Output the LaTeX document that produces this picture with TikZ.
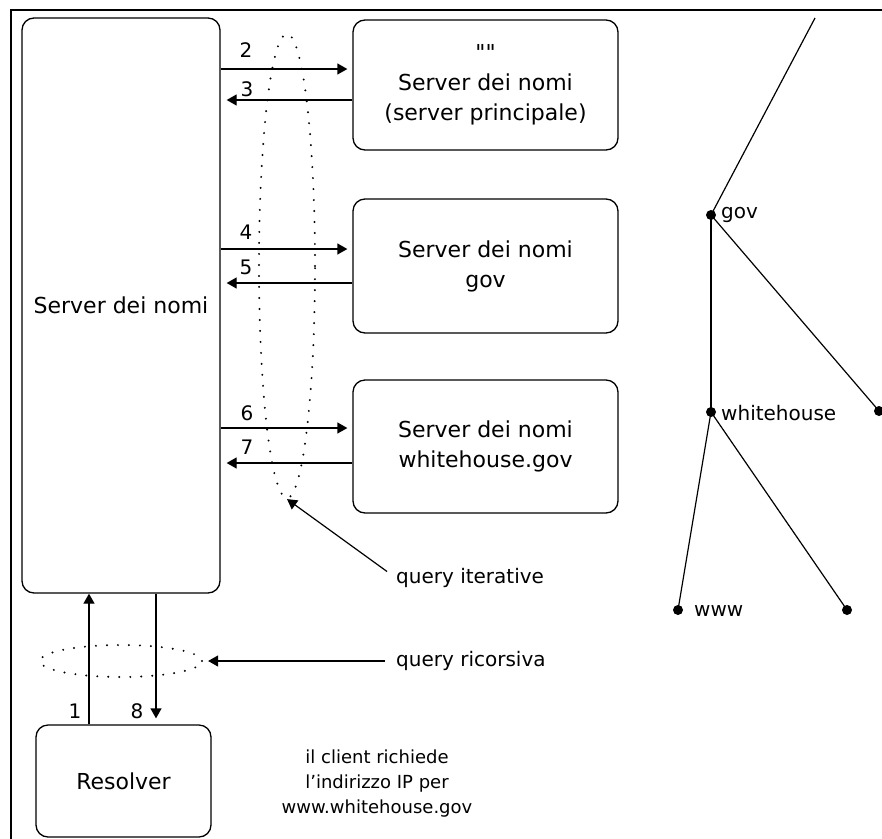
\documentclass[tikz,border=0pt]{standalone}
\usepackage{fontspec}
\setmainfont{DejaVu Sans}
\newfontfamily\rawq{DejaVu Sans}[Ligatures=TeXOff]
\usetikzlibrary{arrows.meta,shapes.geometric}
\begin{document}
\begin{tikzpicture}[x=1pt,y=-1pt,
  box/.style={draw, line width=1.3pt, rounded corners=12pt, align=center, inner sep=0pt},
  arr/.style={line width=1.3pt, -{Triangle[length=10pt,width=11pt]}},
  dots/.style={draw, line width=2.2pt, dash pattern=on 0pt off 11pt, line cap=round, ellipse, inner sep=0pt},
  big/.style={font=\fontsize{22}{30}\selectfont},
  num/.style={font=\fontsize{20}{24}\selectfont, inner sep=0pt},
  lab/.style={font=\fontsize{20}{24}\selectfont, anchor=west, inner sep=0pt},
  small/.style={font=\fontsize{18}{25}\selectfont, align=center, inner sep=0pt},
  tdot/.style={circle, fill, inner sep=0pt, minimum size=10pt},
  tline/.style={line width=1.2pt},
  frame/.style={line width=1.5pt}]

\useasboundingbox (0,0) rectangle (882,838);

% frame
\coordinate (fbl) at (11,845);
\coordinate (ftl) at (11,10);
\coordinate (ftr) at (890,10);
\draw[frame] (fbl) -- (ftl) -- (ftr);

% boxes
\node[box, big, minimum width=198pt, minimum height=575pt] (ns) at (121,305.5) {Server dei nomi};
\node[box, big, minimum width=265pt, minimum height=130pt] (b1) at (485.5,85)
  {{\rawq ""}\\Server dei nomi\\(server principale)};
\node[box, big, minimum width=265pt, minimum height=134pt] (b2) at (485.5,266)
  {Server dei nomi\\gov};
\node[box, big, minimum width=265pt, minimum height=133pt] (b3) at (485.5,446.5)
  {Server dei nomi\\whitehouse.gov};
\node[box, big, minimum width=175pt, minimum height=112pt] (res) at (123.5,781) {Resolver};

% iterative arrows
\draw[arr, shorten >=5pt] (ns.east |- 0,69) -- (b1.west |- 0,69);
\draw[arr, shorten >=6pt] (b1.west |- 0,100) -- (ns.east |- 0,100);
\draw[arr, shorten >=5pt] (ns.east |- 0,249) -- (b2.west |- 0,249);
\draw[arr, shorten >=6pt] (b2.west |- 0,283) -- (ns.east |- 0,283);
\draw[arr, shorten >=5pt] (ns.east |- 0,428) -- (b3.west |- 0,428);
\draw[arr, shorten >=6pt] (b3.west |- 0,463) -- (ns.east |- 0,463);

\node[num] (n2) at (246,50) {2};
\node[num] (n3) at (247,89) {3};
\node[num] (n4) at (246,232) {4};
\node[num] (n5) at (246,267) {5};
\node[num] (n6) at (247,413) {6};
\node[num] (n7) at (247,447) {7};

% recursive arrows
\draw[arr] (res.north -| 89,0) -- (ns.south -| 89,0);
\draw[arr, shorten >=6pt] (ns.south -| 156,0) -- (res.north -| 156,0);
\node[num] (n1) at (75,711) {1};
\node[num] (n8) at (137,711) {8};

% dotted ellipses
\node[dots, minimum width=56pt, minimum height=464pt] (vell) at (287,266) {};
\node[dots, minimum width=162pt, minimum height=32pt] (hell) at (121,661) {};

% annotations
\node[lab] (qi) at (396,578) {query iterative};
\node[lab] (qr) at (396,661) {query ricorsiva};
\draw[tline, -{Triangle[length=10pt,width=11pt]}, shorten <=11pt] (qi.west) -- (vell.south);
\draw[arr, shorten <=11pt, shorten >=5pt] (qr.west) -- (hell.east);

\node[small] (cl) at (377,784) {il client richiede\\l'indirizzo IP per\\www.whitehouse.gov};

% tree
\coordinate (troot) at (815,18);
\node[tdot] (gov) at (711,215) {};
\node[tdot] (wh) at (711,412) {};
\node[tdot] (r1) at (879,411) {};
\node[tdot] (www) at (678,610) {};
\node[tdot] (r2) at (847,610) {};
\draw[tline] (troot) -- (gov.center);
\draw[tline] (gov.center) -- (r1.center);
\draw[line width=1.6pt] (gov.center) -- (wh.center);
\draw[tline] (wh.center) -- (www.center);
\draw[tline] (wh.center) -- (r2.center);
\node[lab] (lgov) at (721,215) {gov};
\node[lab] (lwh) at (721,413) {whitehouse};
\node[lab] (lwww) at (694,611) {www};
\end{tikzpicture}
\end{document}
